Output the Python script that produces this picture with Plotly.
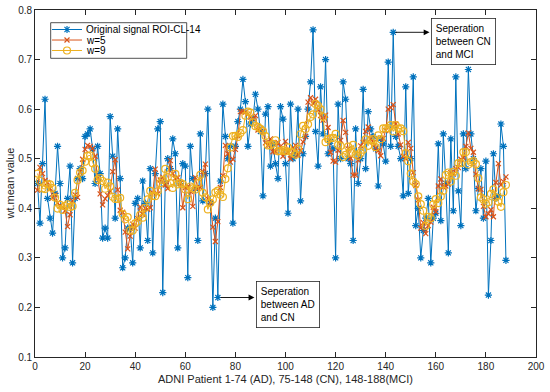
import plotly.graph_objects as go

# Original signal ROI-CL-14 (patients 1..188)
patient = list(range(1, 189))
original = [
    0.450, 0.370, 0.490, 0.620, 0.420, 0.380, 0.350, 0.430, 0.525, 0.450,
    0.300, 0.320, 0.420, 0.485, 0.290, 0.420, 0.460, 0.480, 0.460, 0.545,
    0.550, 0.560, 0.520, 0.450, 0.525, 0.470, 0.340, 0.360, 0.340, 0.585,
    0.505, 0.380, 0.560, 0.460, 0.280, 0.300, 0.360, 0.360, 0.290, 0.410,
    0.420, 0.320, 0.455, 0.410, 0.335, 0.480, 0.310, 0.470, 0.560, 0.575,
    0.230, 0.450, 0.500, 0.480, 0.540, 0.510, 0.320, 0.450, 0.490, 0.485,
    0.260, 0.525, 0.460, 0.440, 0.335, 0.550, 0.415, 0.470, 0.600, 0.410,
    0.200, 0.380, 0.220, 0.455, 0.610, 0.545, 0.500, 0.525, 0.370, 0.525,
    0.575, 0.600, 0.660, 0.615, 0.525, 0.570, 0.580, 0.630, 0.600, 0.555,
    0.425, 0.590, 0.605, 0.485, 0.530, 0.490, 0.460, 0.605, 0.580, 0.490,
    0.390, 0.610, 0.500, 0.510, 0.600, 0.415, 0.510, 0.545, 0.600, 0.655,
    0.760, 0.555, 0.485, 0.645, 0.550, 0.700, 0.510, 0.535, 0.520, 0.300,
    0.610, 0.500, 0.655, 0.620, 0.500, 0.490, 0.335, 0.560, 0.450, 0.500,
    0.640, 0.480, 0.595, 0.560, 0.545, 0.520, 0.445, 0.540, 0.530, 0.495,
    0.695, 0.525, 0.755, 0.545, 0.525, 0.500, 0.425, 0.645, 0.430, 0.500,
    0.665, 0.365, 0.400, 0.300, 0.355, 0.380, 0.420, 0.290, 0.380, 0.390,
    0.530, 0.375, 0.550, 0.450, 0.310, 0.540, 0.395, 0.665, 0.435, 0.365,
    0.550, 0.480, 0.680, 0.550, 0.500, 0.395, 0.440, 0.480, 0.380, 0.495,
    0.225, 0.335, 0.510, 0.420, 0.425, 0.570, 0.525, 0.295,
]

# Smoothed signal, window 5
w5 = [
    0.4367, 0.4825, 0.470, 0.456, 0.452, 0.440, 0.421, 0.427, 0.411, 0.405,
    0.403, 0.395, 0.363, 0.387, 0.415, 0.427, 0.422, 0.473, 0.499, 0.519,
    0.527, 0.525, 0.521, 0.505, 0.461, 0.429, 0.407, 0.419, 0.426, 0.434,
    0.474, 0.498, 0.437, 0.396, 0.392, 0.352, 0.318, 0.344, 0.368, 0.360,
    0.379, 0.403, 0.388, 0.400, 0.398, 0.401, 0.431, 0.479, 0.429, 0.457,
    0.463, 0.447, 0.440, 0.496, 0.470, 0.460, 0.462, 0.451, 0.401, 0.442,
    0.444, 0.434, 0.404, 0.462, 0.440, 0.442, 0.474, 0.489, 0.419, 0.412,
    0.362, 0.333, 0.373, 0.442, 0.466, 0.527, 0.510, 0.493, 0.499, 0.519,
    0.546, 0.595, 0.595, 0.594, 0.590, 0.584, 0.581, 0.587, 0.558, 0.560,
    0.555, 0.532, 0.527, 0.540, 0.514, 0.514, 0.533, 0.525, 0.505, 0.535,
    0.514, 0.500, 0.522, 0.527, 0.507, 0.516, 0.534, 0.545, 0.614, 0.623,
    0.611, 0.620, 0.599, 0.587, 0.578, 0.588, 0.563, 0.513, 0.495, 0.493,
    0.517, 0.537, 0.577, 0.553, 0.520, 0.501, 0.467, 0.467, 0.497, 0.526,
    0.533, 0.555, 0.564, 0.540, 0.533, 0.522, 0.516, 0.506, 0.541, 0.557,
    0.600, 0.603, 0.609, 0.570, 0.550, 0.528, 0.505, 0.500, 0.533, 0.521,
    0.472, 0.446, 0.417, 0.360, 0.371, 0.349, 0.365, 0.372, 0.402, 0.393,
    0.445, 0.459, 0.443, 0.445, 0.449, 0.472, 0.469, 0.480, 0.482, 0.499,
    0.502, 0.525, 0.552, 0.521, 0.513, 0.469, 0.439, 0.438, 0.404, 0.383,
    0.389, 0.397, 0.383, 0.452, 0.490, 0.447, 0.4538, 0.4633,
]

# Smoothed signal, window 9
w9 = [
    0.470, 0.455, 0.440, 0.4388, 0.4483, 0.4483, 0.4406, 0.4217, 0.3994, 0.4067,
    0.3967, 0.4044, 0.4078, 0.4028, 0.4039, 0.4311, 0.4567, 0.4722, 0.4761, 0.4939,
    0.5056, 0.5067, 0.4911, 0.480, 0.4572, 0.4611, 0.455, 0.4394, 0.4517, 0.4444,
    0.4233, 0.4189, 0.4189, 0.4211, 0.3883, 0.3778, 0.3822, 0.3556, 0.355, 0.3694,
    0.3733, 0.3867, 0.3811, 0.4011, 0.4178, 0.435, 0.425, 0.4244, 0.4344, 0.4506,
    0.4572, 0.4794, 0.4628, 0.4506, 0.4411, 0.4694, 0.4483, 0.4511, 0.4489, 0.4378,
    0.4183, 0.4439, 0.440, 0.4378, 0.4506, 0.4672, 0.4311, 0.4222, 0.3978, 0.4111,
    0.4178, 0.4322, 0.4356, 0.4272, 0.4228, 0.4589, 0.4806, 0.5228, 0.5456, 0.5461,
    0.5439, 0.5517, 0.5578, 0.5867, 0.595, 0.5928, 0.5733, 0.5656, 0.5644, 0.560,
    0.5556, 0.5456, 0.5267, 0.5272, 0.530, 0.5372, 0.515, 0.5156, 0.5172, 0.515,
    0.5228, 0.5144, 0.5117, 0.5078, 0.520, 0.5494, 0.5661, 0.560, 0.5694, 0.5844,
    0.5894, 0.6106, 0.6067, 0.5994, 0.5844, 0.5333, 0.5394, 0.5411, 0.5422, 0.550,
    0.5278, 0.5256, 0.5033, 0.5078, 0.5244, 0.5122, 0.5278, 0.5083, 0.5056, 0.5122,
    0.5183, 0.5389, 0.5261, 0.5372, 0.5394, 0.5233, 0.5472, 0.5394, 0.5611, 0.5611,
    0.5617, 0.5678, 0.555, 0.5678, 0.5606, 0.5611, 0.5556, 0.5111, 0.495, 0.470,
    0.4539, 0.4489, 0.4239, 0.4083, 0.395, 0.3644, 0.3828, 0.380, 0.4078, 0.4183,
    0.4106, 0.4239, 0.4356, 0.4672, 0.4722, 0.4539, 0.4733, 0.4656, 0.4911, 0.4911,
    0.5133, 0.5133, 0.4883, 0.4933, 0.495, 0.4889, 0.4606, 0.4222, 0.4178, 0.4089,
    0.4122, 0.4289, 0.4383, 0.4222, 0.4131, 0.4029, 0.4325, 0.447,
]

series_names = ["Original signal ROI-CL-14", "w=5", "w=9"]
x_ticks = [0, 20, 40, 60, 80, 100, 120, 140, 160, 180, 200]
y_ticks = [0.1, 0.2, 0.3, 0.4, 0.5, 0.6, 0.7, 0.8]

BLUE = "#0072BD"
ORANGE = "#D95319"
YELLOW = "#EDB120"
AX = "#262626"
FONT = "Liberation Sans, Arial, sans-serif"

styles = [
    dict(color=BLUE, symbol="asterisk-open", size=6),
    dict(color=ORANGE, symbol="x-thin-open", size=5),
    dict(color=YELLOW, symbol="circle-open", size=7),
]
series = [original, w5, w9]

fig = go.Figure()
for name, ys, st in zip(series_names, series, styles):
    fig.add_trace(go.Scatter(
        x=patient, y=ys, name=name, mode="lines+markers", showlegend=False,
        line=dict(color=st["color"], width=1),
        marker=dict(symbol=st["symbol"], size=st["size"], color=st["color"],
                    line=dict(color=st["color"], width=1.2)),
    ))

# ---- compact MATLAB-style legend drawn on an invisible overlay axis (paper-like 0..1) ----
leg_x0, leg_x1, leg_y0, leg_y1 = 0.0313, 0.3028, 0.8608, 0.9634
leg_rows = [0.9438, 0.9135, 0.8833]
fig.add_shape(type="rect", xref="paper", yref="paper", x0=leg_x0, x1=leg_x1,
              y0=leg_y0, y1=leg_y1, line=dict(color=AX, width=0.8),
              fillcolor="white", layer="below")
for name, ry, st in zip(series_names, leg_rows, styles):
    fig.add_trace(go.Scatter(
        x=[0.0339, 0.0938], y=[ry, ry], mode="lines", xaxis="x2", yaxis="y2",
        showlegend=False, hoverinfo="skip", line=dict(color=st["color"], width=1)))
    fig.add_trace(go.Scatter(
        x=[0.0639], y=[ry], mode="markers", xaxis="x2", yaxis="y2",
        showlegend=False, hoverinfo="skip",
        marker=dict(symbol=st["symbol"], size=st["size"], color=st["color"],
                    line=dict(color=st["color"], width=1.2))))
    fig.add_annotation(x=0.0978, y=ry, xref="paper", yref="paper", xanchor="left",
                       yanchor="middle", text=name, showarrow=False,
                       font=dict(family=FONT, size=10, color="black"))

# Arrows (tail at the data point, head at the text box)
fig.add_annotation(x=87.6, y=original[72], ax=patient[72] + 0.5, ay=original[72],
                   xref="x", yref="y", axref="x", ayref="y", text="",
                   showarrow=True, arrowhead=2, arrowsize=1.3, arrowwidth=0.9,
                   arrowcolor="black", standoff=0, startstandoff=0)
fig.add_annotation(x=157.5, y=original[142], ax=patient[142] + 0.3, ay=original[142],
                   xref="x", yref="y", axref="x", ayref="y", text="",
                   showarrow=True, arrowhead=2, arrowsize=1.3, arrowwidth=0.9,
                   arrowcolor="black", standoff=0, startstandoff=0)

# Text boxes
fig.add_annotation(x=88.4, y=0.254, xref="x", yref="y", xanchor="left", yanchor="top",
                   text="Seperation<br>between AD<br>and CN", align="left",
                   showarrow=False, font=dict(family=FONT, size=10, color="black"),
                   bordercolor=AX, borderwidth=0.8, borderpad=4, bgcolor="white")
fig.add_annotation(x=158.2, y=0.784, xref="x", yref="y", xanchor="left", yanchor="top",
                   text="Seperation<br>between CN<br>and MCI", align="left",
                   showarrow=False, font=dict(family=FONT, size=10, color="black"),
                   bordercolor=AX, borderwidth=0.8, borderpad=4, bgcolor="white")

# Axis titles
fig.add_annotation(x=0.5, y=0, xref="paper", yref="paper", xanchor="center",
                   yanchor="middle", yshift=-22, showarrow=False,
                   text="ADNI Patient 1-74 (AD), 75-148 (CN), 148-188(MCI)",
                   font=dict(family=FONT, size=11, color=AX))
fig.add_annotation(x=0, y=0.5, xref="paper", yref="paper", xanchor="center",
                   yanchor="middle", xshift=-26, showarrow=False, textangle=-90,
                   text="wt.mean value", font=dict(family=FONT, size=11, color=AX))

axis_common = dict(
    showgrid=False, zeroline=False, showline=True, linecolor=AX, linewidth=0.8,
    mirror="ticks", ticks="inside", ticklen=5, tickcolor=AX, tickwidth=0.8,
    tickfont=dict(family=FONT, size=10, color=AX), automargin=False,
)
fig.update_xaxes(range=[0, 200], tickvals=x_ticks, **axis_common)
fig.update_yaxes(range=[0.1, 0.8], tickvals=y_ticks, tickformat=".1f", **axis_common)

fig.update_layout(
    width=550, height=392,
    margin=dict(l=35, r=14, t=10, b=35),
    paper_bgcolor="white", plot_bgcolor="white",
    font=dict(family=FONT, size=10, color=AX),
    showlegend=False,
    xaxis2=dict(domain=[0, 1], range=[0, 1], overlaying="x", visible=False,
                anchor="y2", fixedrange=True),
    yaxis2=dict(domain=[0, 1], range=[0, 1], overlaying="y", visible=False,
                anchor="x2", fixedrange=True),
)

fig.write_html(
    "out.html",
    config={"displayModeBar": False},
    post_script="document.body.style.margin='0';document.body.style.padding='0';"
                "document.documentElement.style.overflow='hidden';",
)
